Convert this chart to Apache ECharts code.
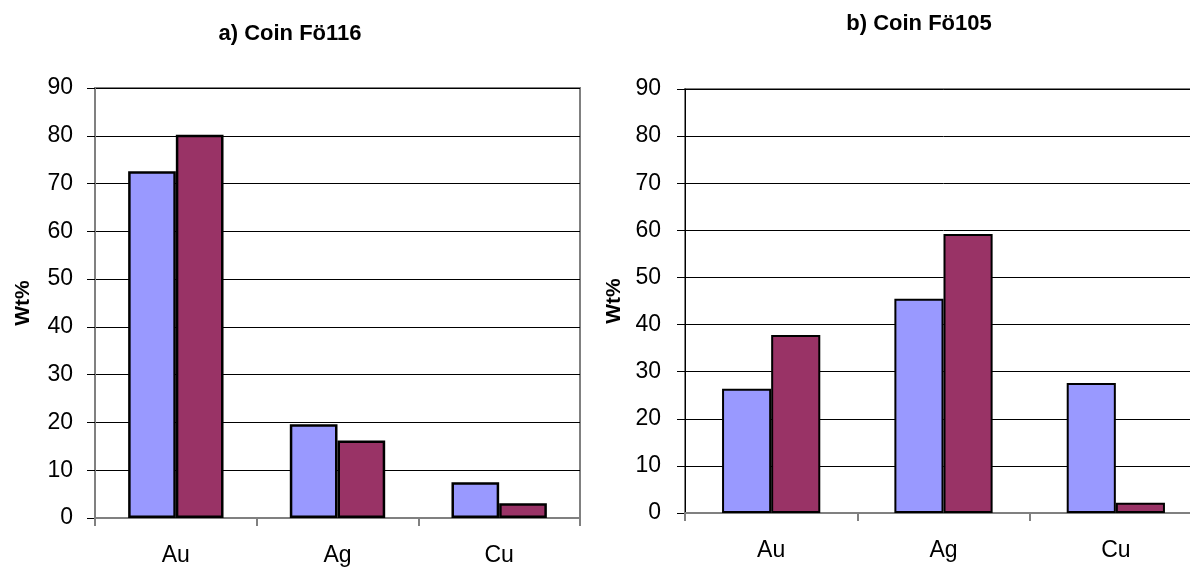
<!DOCTYPE html>
<html>
<head>
<meta charset="utf-8">
<script src="https://cdn.jsdelivr.net/npm/echarts@6/dist/echarts.min.js"></script>
<style>
  html, body { margin: 0; padding: 0; background: #fff; overflow: hidden; }
  #chart { width: 1204px; height: 567px; }
</style>
</head>
<body>
<div id="chart"></div>
<script>
// Element composition (Wt%) of two coins, two measurements each
const elements = ['Au', 'Ag', 'Cu'];
const yTicks = [0, 10, 20, 30, 40, 50, 60, 70, 80, 90];

const titleA = 'a) Coin Fö116';
const coinA_first = [72.6, 19.6, 7.5];
const coinA_second = [80.2, 16.2, 3.1];

const titleB = 'b) Coin Fö105';
const coinB_first = [26.4, 45.5, 27.6];
const coinB_second = [37.8, 59.2, 2.2];

const FONT = 'Liberation Sans, Arial, sans-serif';
const BLUE = '#9999FF';
const PLUM = '#993366';

function yAxis(gridIndex, lineColor, lineWidth, labelMargin, nameGap) {
  return {
    type: 'value', gridIndex: gridIndex,
    min: yTicks[0], max: yTicks[yTicks.length - 1], interval: yTicks[1] - yTicks[0],
    name: 'Wt%', nameLocation: 'middle', nameGap: nameGap,
    nameTextStyle: { fontFamily: FONT, fontSize: 21, fontWeight: 'bold', color: '#000' },
    axisLine: { show: true, lineStyle: { color: lineColor, width: lineWidth } },
    axisTick: { show: true, length: 8, lineStyle: { color: '#000', width: 1 } },
    axisLabel: { margin: labelMargin, fontFamily: FONT, fontSize: 23, color: '#000' },
    splitLine: { show: true, lineStyle: { color: '#000', width: 1 } }
  };
}

function xAxis(gridIndex) {
  return {
    type: 'category', gridIndex: gridIndex, data: elements,
    axisLine: { show: true, lineStyle: { color: '#808080', width: 2 } },
    axisTick: { show: true, length: 8, alignWithLabel: false, lineStyle: { color: '#808080', width: 2 } },
    axisLabel: { margin: 26, fontFamily: FONT, fontSize: 23, color: '#000' }
  };
}

function bars(index, values, color, borderWidth, gap) {
  return {
    type: 'bar', xAxisIndex: index, yAxisIndex: index, data: values,
    barGap: '0%', barCategoryGap: gap,
    itemStyle: { color: color, borderColor: '#000', borderWidth: borderWidth },
    emphasis: { disabled: true }
  };
}

const chart = echarts.init(document.getElementById('chart'), null, { renderer: 'canvas' });
chart.setOption({
  animation: false,
  backgroundColor: '#fff',
  title: [
    { text: titleA, left: 285, top: 18, textAlign: 'center',
      textStyle: { fontFamily: FONT, fontSize: 22, fontWeight: 'bold', color: '#000' } },
    { text: titleB, left: 914, top: 8, textAlign: 'center',
      textStyle: { fontFamily: FONT, fontSize: 22, fontWeight: 'bold', color: '#000' } }
  ],
  grid: [
    { left: 95, top: 88, width: 485, height: 432, show: true, borderColor: '#808080', borderWidth: 2 },
    { left: 685, top: 89, width: 517, height: 424, show: true, borderColor: '#808080', borderWidth: 2 }
  ],
  xAxis: [xAxis(0), xAxis(1)],
  yAxis: [yAxis(0, '#808080', 2, 22, 61), yAxis(1, '#000', 1, 24, 60)],
  series: [
    bars(0, coinA_first, BLUE, 2.5, '41%'),
    bars(0, coinA_second, PLUM, 2.5, '41%'),
    bars(1, coinB_first, BLUE, 2, '43%'),
    bars(1, coinB_second, PLUM, 2, '43%')
  ]
});
</script>
</body>
</html>
